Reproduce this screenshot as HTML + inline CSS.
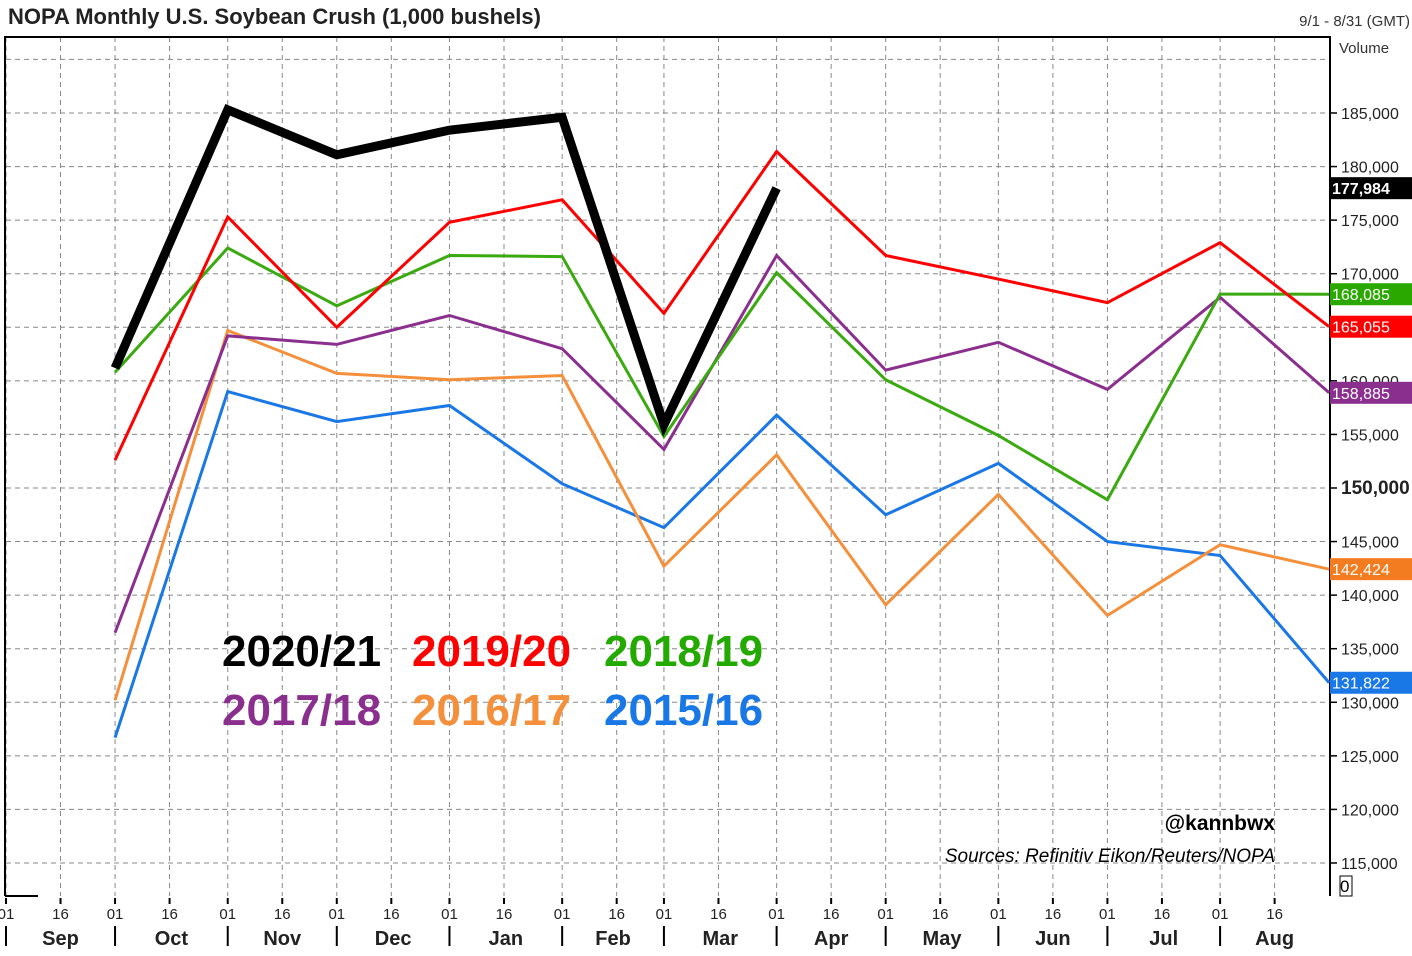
<!DOCTYPE html>
<html><head><meta charset="utf-8"><style>
body{margin:0;background:#fff;width:1412px;height:951px;overflow:hidden;font-family:"Liberation Sans",sans-serif}
</style></head><body>
<svg id="chart" width="1412" height="951" xmlns="http://www.w3.org/2000/svg" font-family="Liberation Sans, sans-serif">
<text x="8" y="24" font-size="22" font-weight="bold" fill="#222">NOPA Monthly U.S. Soybean Crush (1,000 bushels)</text>
<text x="1410" y="26" font-size="15" fill="#333" text-anchor="end">9/1 - 8/31 (GMT)</text>
<text x="1339" y="53" font-size="15" fill="#333">Volume</text>
<g id="grid"></g><g id="axes"></g><g id="series"></g><g id="labels"></g>
<text x="222" y="666" font-size="44" font-weight="bold" fill="#000">2020/21</text>
<text x="412" y="666" font-size="44" font-weight="bold" fill="#f00">2019/20</text>
<text x="604" y="666" font-size="44" font-weight="bold" fill="#22aa00">2018/19</text>
<text x="222" y="725" font-size="44" font-weight="bold" fill="#8b2f8f">2017/18</text>
<text x="412" y="725" font-size="44" font-weight="bold" fill="#f4903c">2016/17</text>
<text x="604" y="725" font-size="44" font-weight="bold" fill="#1a78e6">2015/16</text>
<text x="1275" y="830" font-size="21" font-weight="bold" fill="#000" text-anchor="end">@kannbwx</text>
<text x="1275" y="862" font-size="19" font-style="italic" fill="#000" text-anchor="end">Sources: Refinitiv Eikon/Reuters/NOPA</text>
</svg>
<script>
const months=["Sep","Oct","Nov","Dec","Jan","Feb","Mar","Apr","May","Jun","Jul","Aug"];
const monthStartDays=[0,30,61,91,122,153,181,212,242,273,303,334,364];
const yTicks=[115000,120000,125000,130000,135000,140000,145000,150000,155000,160000,165000,170000,175000,180000,185000];
const s2020=[161200,185300,181100,183400,184600,155900,177984];
const s2019=[152600,175300,165000,174800,176900,166300,181400,171700,169500,167300,172900,165055];
const s2018=[160800,172400,167000,171700,171600,154800,170100,160100,154900,148900,168100,168085];
const s2017=[136500,164200,163400,166100,163000,153600,171700,161000,163600,159200,167800,158885];
const s2016=[130200,164700,160700,160100,160500,142700,153100,139100,149400,138100,144700,142424];
const s2015=[126700,159000,156200,157700,150400,146300,156800,147500,152300,145000,143700,131822];
const NS="http://www.w3.org/2000/svg";
const L=6,R=1330,T=37,B=896;
function X(d){return 6+d*3.635;}
function Y(v){return 113+(185000-v)*0.010714;}
function mk(tag,attrs,parent){const e=document.createElementNS(NS,tag);for(const k in attrs)e.setAttribute(k,attrs[k]);document.getElementById(parent).appendChild(e);return e;}
// horizontal grid
for(let v=115000;v<=190000;v+=5000){const y=Y(v);
 const g=mk('line',{x1:L,x2:R,y1:y,y2:y,stroke:'#888','stroke-dasharray':'5,4','stroke-width':1},'grid');
 
 }
// vertical grid + x labels
for(let i=0;i<12;i++){const d0=monthStartDays[i];
 [d0,d0+15].forEach((d,j)=>{const x=X(d);
  const g=mk('line',{x1:x,x2:x,y1:T,y2:B,stroke:'#888','stroke-dasharray':'5,4','stroke-width':1},'grid');
  
  
  mk('line',{x1:x,x2:x,y1:B+2,y2:B+8,stroke:'#000','stroke-width':2},'axes');
  const t=mk('text',{x:x,y:B+23,'font-size':15,'text-anchor':'middle',fill:'#222'},'axes');
  t.textContent=j==0?'01':'16';
  
  });
 const xs=X(d0);
 mk('line',{x1:xs,x2:xs,y1:B+30,y2:B+50,stroke:'#000','stroke-width':2},'axes');
 const m=mk('text',{x:(X(d0)+X(monthStartDays[i+1]))/2,y:B+49,'font-size':20,'font-weight':'bold','text-anchor':'middle',fill:'#222'},'axes');
 m.textContent=months[i];
 
 }
// frame
mk('path',{d:`M${L-1},${B} L${L-1},${T} L${R},${T} L${R},${B}`,fill:'none',stroke:'#000','stroke-width':2},'axes');
mk('line',{x1:L-1,x2:L+32,y1:B,y2:B,stroke:'#000','stroke-width':2},'axes');
// y ticks
yTicks.forEach(v=>{const y=Y(v);
 mk('line',{x1:R,x2:R+7,y1:y,y2:y,stroke:'#000','stroke-width':1.5},'axes');
 const t=mk('text',{x:R+11,y:y+6,'font-size':v==150000?19:16,'font-weight':v==150000?'bold':'normal',fill:'#222'},'axes');
 t.textContent=v.toLocaleString('en-US');
 
 });
const zl=mk('text',{x:1340,y:892,'font-size':17,fill:'#000'},'axes');zl.textContent='0';


mk('rect',{x:1340,y:876,width:12,height:20,fill:'none',stroke:'#000'},'axes');
const series=[[s2015,'#1a78e6',3,'series-2015-16','#1a78e6'],[s2016,'#f4903c',3,'series-2016-17','#f47c20'],[s2017,'#8b2f8f',3,'series-2017-18','#8b2f8f'],[s2018,'#3aaa10',3,'series-2018-19','#2aa800'],[s2019,'#ff0000',3,'series-2019-20','#ff0000'],[s2020,'#000',9,'series-2020-21','#000']];
series.forEach(([vals,c,w,name,lc])=>{
 const pts=vals.map((v,i)=>{const d=i<11?monthStartDays[i+1]:364;return X(d)+','+Y(v);}).join(' ');
 const p=mk('polyline',{points:pts,fill:'none',stroke:c,'stroke-width':w,'stroke-linejoin':'miter'},'series');
 
 
 const last=vals[vals.length-1];
 if(vals.length==12||name=='series-2020-21'){
  const y=Y(last);
  const r=mk('rect',{x:R,y:y-11,width:82,height:22,fill:lc},'labels');
  
  
  const t=mk('text',{x:R+2,y:y+6,'font-size':16,fill:name=='series-2020-21'?'#fff':'#fff','font-weight':name=='series-2020-21'?'bold':'normal'},'labels');
  t.textContent=last.toLocaleString('en-US');
  
  }
});
</script>
</body></html>
